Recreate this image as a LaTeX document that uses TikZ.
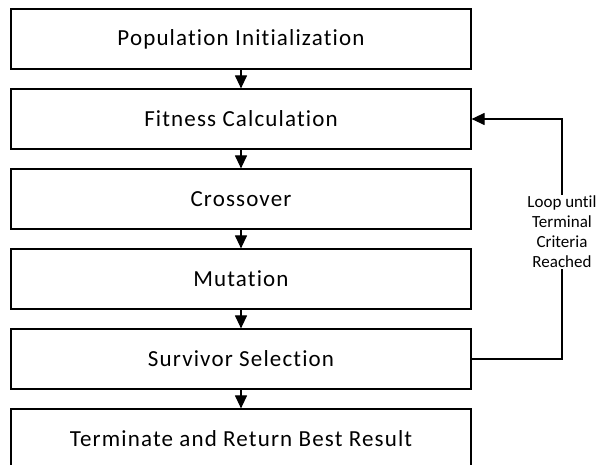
\documentclass[tikz,border=0pt]{standalone}
\usepackage{fontspec}
\setmainfont{Carlito}[RawFeature=-liga]
\newfontfamily\boxfont{Carlito}[RawFeature=-liga, LetterSpace=5]
\usetikzlibrary{arrows.meta}
\tikzset{
  x=1pt, y=1pt,
  stage/.style={draw=black, line width=1.2pt, minimum width=460pt, minimum height=60pt,
    inner sep=0pt, font=\boxfont\fontsize{23}{28}\selectfont},
  flow/.style={draw=black, line width=1.2pt, -{Triangle[length=13pt,width=12pt]}},
  looplabel/.style={fill=white, inner sep=1pt, align=center,
    font=\fontsize{17}{20}\selectfont}
}
\begin{document}
\begin{tikzpicture}
\useasboundingbox (0,0) rectangle (598,-465);
\clip (0,0) rectangle (598,-465);
\fill[white] (0,0) rectangle (598,-465);
\node[stage] (pop) at (241,-39) {Population Initialization};
\node[stage] (fit) at (241,-119) {Fitness Calculation};
\node[stage] (cro) at (241,-199) {Crossover};
\node[stage] (mut) at (241,-279) {Mutation};
\node[stage] (sur) at (241,-359) {Survivor Selection};
\node[stage] (ter) at (241,-439) {Terminate and Return Best Result};
\draw[flow] (pop) -- (fit);
\draw[flow] (fit) -- (cro);
\draw[flow] (cro) -- (mut);
\draw[flow] (mut) -- (sur);
\draw[flow] (sur) -- (ter);
\coordinate (loopb) at (562,-359);
\coordinate (loopt) at (562,-119);
\draw[flow] (sur.east) -- (loopb) -- (loopt) -- (fit.east);
\node[looplabel] (lab) at (562,-232) {Loop until\\Terminal\\Criteria\\Reached};
\end{tikzpicture}
\end{document}
